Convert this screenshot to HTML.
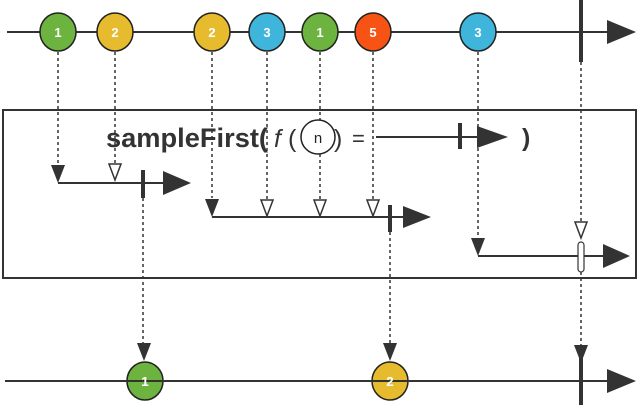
<!DOCTYPE html>
<html><head><style>body{margin:0;background:#fff}svg{display:block}</style></head><body>
<svg width="640" height="408" viewBox="0 0 640 408" xmlns="http://www.w3.org/2000/svg" font-family="Liberation Sans, sans-serif">
<g stroke="#333" stroke-width="1.5" stroke-dasharray="3,3" fill="none">
<line x1="58" y1="52" x2="58" y2="165"/>
<line x1="115" y1="52" x2="115" y2="163"/>
<line x1="212" y1="52" x2="212" y2="198"/>
<line x1="267" y1="52" x2="267" y2="200"/>
<line x1="320" y1="52" x2="320" y2="200"/>
<line x1="373" y1="52" x2="373" y2="200"/>
<line x1="478" y1="52" x2="478" y2="238"/>
<line x1="581" y1="62" x2="581" y2="222"/>
<line x1="143" y1="198" x2="143" y2="344"/>
<line x1="390" y1="232" x2="390" y2="344"/>
<line x1="581" y1="272" x2="581" y2="346"/>
</g>
<rect x="3" y="110" width="633" height="168" fill="none" stroke="#333" stroke-width="2"/>
<line x1="7" y1="32" x2="610" y2="32" stroke="#333" stroke-width="2"/>
<polygon points="607,20 636,32 607,44" fill="#333"/>
<line x1="581" y1="0" x2="581" y2="62" stroke="#333" stroke-width="4"/>
<g stroke="#222" stroke-width="1.5">
<ellipse cx="58" cy="32" rx="18" ry="19" fill="#6db33f"/>
<ellipse cx="115" cy="32" rx="18" ry="19" fill="#e6bb2e"/>
<ellipse cx="212" cy="32" rx="18" ry="19" fill="#e6bb2e"/>
<ellipse cx="267" cy="32" rx="18" ry="19" fill="#3fb5db"/>
<ellipse cx="320" cy="32" rx="18" ry="19" fill="#6db33f"/>
<ellipse cx="373" cy="32" rx="18" ry="19" fill="#f65314"/>
<ellipse cx="478" cy="32" rx="18" ry="19" fill="#3fb5db"/>
<ellipse cx="145" cy="381" rx="18" ry="19" fill="#6db33f"/>
<ellipse cx="390" cy="381" rx="18" ry="19" fill="#e6bb2e"/>
</g>
<g fill="#fff" font-weight="bold" font-size="13" text-anchor="middle">
<text x="58" y="37">1</text><text x="115" y="37">2</text><text x="212" y="37">2</text><text x="267" y="37">3</text><text x="320" y="37">1</text><text x="373" y="37">5</text><text x="478" y="37">3</text>
<text x="145" y="386">1</text><text x="390" y="386">2</text>
</g>
<text x="106" y="147" font-size="27" font-weight="bold" fill="#333" textLength="162" lengthAdjust="spacingAndGlyphs">sampleFirst(</text>
<text x="274" y="147" font-size="25" font-style="italic" fill="#333">f</text>
<text x="288" y="147" font-size="25" fill="#333">(</text>
<ellipse cx="318" cy="137" rx="17" ry="17" fill="#fff" stroke="#222" stroke-width="1.5"/>
<text x="318" y="143" font-size="15" text-anchor="middle" fill="#222">n</text>
<text x="334" y="147" font-size="25" fill="#333">)</text>
<text x="352" y="146" font-size="22" fill="#333">=</text>
<line x1="376" y1="137" x2="480" y2="137" stroke="#333" stroke-width="2"/>
<line x1="460" y1="123" x2="460" y2="149" stroke="#333" stroke-width="4"/>
<polygon points="477,126 508,137 477,148" fill="#333"/>
<text x="522" y="146" font-size="25" font-weight="bold" fill="#333">)</text>
<line x1="58" y1="183" x2="165" y2="183" stroke="#333" stroke-width="2"/>
<line x1="143" y1="170" x2="143" y2="198" stroke="#333" stroke-width="4"/>
<polygon points="163,171 191,183 163,195" fill="#333"/>
<polygon points="51,165 65,165 58,183" fill="#333"/>
<polygon points="109,164 121,164 115,180" fill="#fff" stroke="#333" stroke-width="1.5"/>
<line x1="212" y1="217" x2="405" y2="217" stroke="#333" stroke-width="2"/>
<line x1="390" y1="205" x2="390" y2="232" stroke="#333" stroke-width="4"/>
<polygon points="403,206 431,217 403,228" fill="#333"/>
<polygon points="205,199 219,199 212,217" fill="#333"/>
<polygon points="261,200 273,200 267,216" fill="#fff" stroke="#333" stroke-width="1.5"/>
<polygon points="314,200 326,200 320,216" fill="#fff" stroke="#333" stroke-width="1.5"/>
<polygon points="367,200 379,200 373,216" fill="#fff" stroke="#333" stroke-width="1.5"/>
<line x1="478" y1="256" x2="605" y2="256" stroke="#333" stroke-width="2"/>
<polygon points="603,244 630,256 603,268" fill="#333"/>
<polygon points="471,238 485,238 478,256" fill="#333"/>
<polygon points="575,222 587,222 581,238" fill="#fff" stroke="#333" stroke-width="1.5"/>
<rect x="578" y="242" width="6" height="30" rx="3" fill="#fff" stroke="#333" stroke-width="1.2"/>
<line x1="5" y1="381" x2="610" y2="381" stroke="#333" stroke-width="2"/>
<polygon points="607,369 636,381 607,393" fill="#333"/>
<line x1="581" y1="355" x2="581" y2="405" stroke="#333" stroke-width="4"/>
<polygon points="137,343 151,343 144,361" fill="#333"/>
<polygon points="383,343 397,343 390,361" fill="#333"/>
<polygon points="574,345 588,345 581,363" fill="#333"/>
<g fill="#fff" font-weight="bold" font-size="13" text-anchor="middle">
<text x="145" y="386">1</text><text x="390" y="386">2</text>
</g>
</svg>
</body></html>
